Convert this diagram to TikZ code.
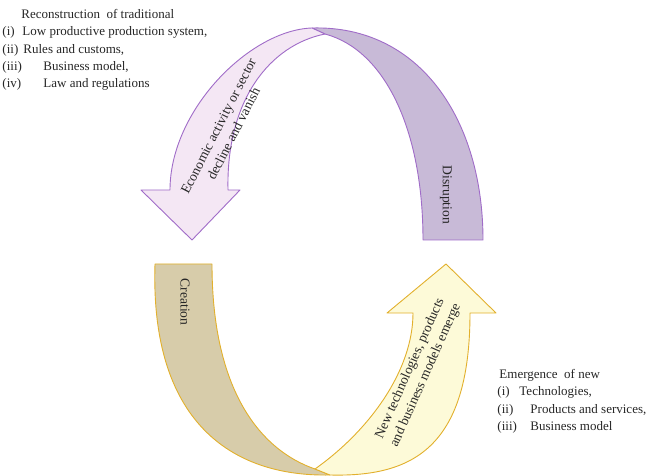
\documentclass[tikz,border=0pt]{standalone}
\usepackage{fontspec}
\setmainfont{Liberation Serif}
\usepackage{tikz}

\definecolor{pinkfill}{RGB}{244,231,244}
\definecolor{lavfill}{RGB}{200,186,215}
\definecolor{purpline}{RGB}{160,108,200}
\definecolor{tanfill}{RGB}{215,204,170}
\definecolor{yelfill}{RGB}{253,250,216}
\definecolor{goldline}{RGB}{226,176,44}

\begin{document}
\begin{tikzpicture}[x=1pt, y=-1pt, line width=0.9pt,
  frontpink/.style={draw=purpline, fill=pinkfill, line join=round},
  backpurple/.style={draw=purpline, fill=lavfill, line join=round},
  fronttan/.style={draw=goldline, fill=tanfill, line join=round},
  backyellow/.style={draw=goldline, fill=yelfill, line join=round},
  inlabel/.style={font=\fontsize{13.6}{17}\selectfont, align=center, inner sep=0pt, text=black!85},
  listtext/.style={font=\fontsize{13}{17.3}\selectfont, align=left, anchor=north west, inner sep=0pt, text=black!85}]

\useasboundingbox (0,0) rectangle (646,476);

% upper ribbon
\draw[backpurple] (312,28) .. controls (420,25) and (483,120) .. (483,240) -- (423,240) .. controls (423,130) and (385,50) .. (325,34) -- cycle;
\draw[frontpink] (170,190) -- (141,190) -- (192,240) -- (240,190) -- (228,190) .. controls (226,100) and (270,45) .. (325,34) -- (312,28) .. controls (250,30) and (170,110) .. (170,190) -- cycle;

% lower ribbon
\draw[fronttan] (155,264) -- (212,264) .. controls (212,390) and (260,450) .. (315,469) -- (330,475) .. controls (230,477) and (150,420) .. (155,264) -- cycle;
\draw[backyellow] (315,469) .. controls (370,430) and (413,370) .. (413,313) -- (387,313) -- (446,264) -- (496,313) -- (470,313) .. controls (470,450) and (410,477) .. (330,475) -- cycle;

\node[inlabel, rotate=63] (decline) at (226,130) {Economic activity or sector\\decline and vanish};
\node[inlabel, rotate=-90] (disrupt) at (446,195) {Disruption};
\node[inlabel, rotate=-90] (create) at (185,302) {Creation};
\node[inlabel, rotate=66] (emerge) at (418,372) {New technologies, products\\and business models emerge};

\node[listtext] (old) at (2,9) {\hspace*{19pt}Reconstruction\ \ of traditional\\
  \makebox[20pt][l]{(i)}Low productive production system,\\
  \makebox[21pt][l]{(ii)}Rules and customs,\\
  \makebox[41pt][l]{(iii)}Business model,\\
  \makebox[41pt][l]{(iv)}Law and regulations};

\node[listtext] (new) at (497,369) {\hspace*{2pt}Emergence\ \ of new\\
  \makebox[22pt][l]{(i)}Technologies,\\
  \makebox[33pt][l]{(ii)}Products and services,\\
  \makebox[33pt][l]{(iii)}Business model};
\end{tikzpicture}
\end{document}
